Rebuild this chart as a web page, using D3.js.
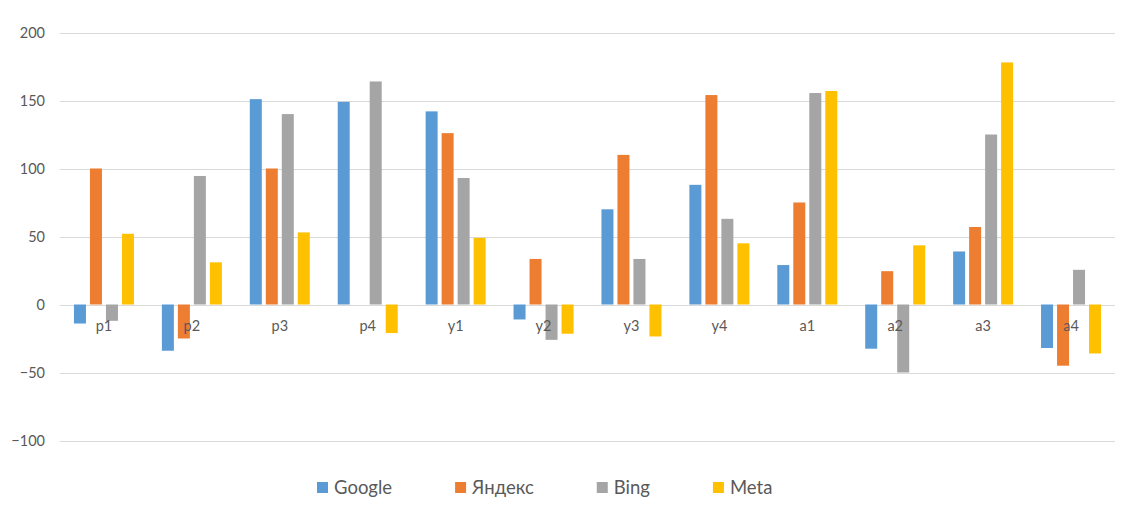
<!DOCTYPE html>
<html>
<head>
<meta charset="utf-8">
<script src="https://cdn.jsdelivr.net/npm/d3@7"></script>
<style>
  html, body { margin: 0; padding: 0; background: #fff; }
  svg { display: block; font-family: Lato, "Open Sans", "Liberation Sans", sans-serif; }
</style>
</head>
<body>
<svg id="chart" width="1124" height="523"></svg>
<script>
const categories = ["p1","p2","p3","p4","y1","y2","y3","y4","a1","a2","a3","a4"];
const seriesNames = ["Google","Яндекс","Bing","Meta"];
const google = [-14, -34, 151, 149, 142, -11, 70, 88, 29, -32.5, 39, -32];
const yandex = [100, -25, 100, 0, 126, 33.5, 110, 154, 75, 24.5, 57, -45];
const bing   = [-12, 94.5, 140, 164, 93, -26, 33.5, 63, 155.5, -50, 125, 25.5];
const meta   = [52, 31, 53, -21, 49, -21.5, -23.5, 45, 157, 43.5, 178, -36];
const yTicks = [-100, -50, 0, 50, 100, 150, 200];
const colors = ["#5B9BD5", "#ED7D31", "#A5A5A5", "#FFC000"];

const seriesValues = [google, yandex, bing, meta];

const svg = d3.select("#chart");
const plotLeft = 60, plotRight = 1115, plotTop = 32.5, plotBottom = 440.5;

const x = d3.scaleBand().domain(categories).range([plotLeft, plotRight]).paddingInner(0).paddingOuter(0);
const y = d3.scaleLinear().domain([-100, 200]).range([plotBottom, plotTop]);

// gridlines
svg.append("g").selectAll("line").data(yTicks).join("line")
  .attr("x1", plotLeft).attr("x2", plotRight)
  .attr("y1", d => Math.round(y(d)) + 0.5).attr("y2", d => Math.round(y(d)) + 0.5)
  .attr("stroke", "#D9D9D9").attr("stroke-width", 1);

// y axis labels
const yAxis = d3.axisLeft(y).tickValues(yTicks).tickSize(0).tickPadding(0);
const gy = svg.append("g").attr("transform", `translate(45,0)`).call(yAxis);
gy.select(".domain").remove();
gy.selectAll("text").attr("fill", "#595959").style("font-size", "14.5px")
  .attr("font-family", "Lato, \"Open Sans\", sans-serif");

// bars
const groupW = 60, barW = 12, step = 16;
const barsG = svg.append("g");
seriesNames.forEach((name, si) => {
  const vals = seriesValues[si];
  barsG.append("g").selectAll("rect").data(categories.map((c, i) => ({c, v: vals[i]}))).join("rect")
    .attr("x", d => x(d.c) + (x.bandwidth() - groupW) / 2 + si * step)
    .attr("width", barW)
    .attr("y", d => y(Math.max(0, d.v)))
    .attr("height", d => Math.abs(y(d.v) - y(0)))
    .attr("fill", colors[si]);
});

// category labels
svg.append("g").selectAll("text").data(categories).join("text")
  .attr("x", d => x(d) + x.bandwidth() / 2)
  .attr("y", y(0) + 26)
  .attr("text-anchor", "middle")
  .attr("fill", "#595959")
  .style("font-size", "14.5px")
  .text(d => d);

// legend
const lg = svg.append("g");
let lx = 317;
seriesNames.forEach((name, i) => {
  lg.append("rect").attr("x", lx).attr("y", 482).attr("width", 11).attr("height", 11).attr("fill", colors[i]);
  const t = lg.append("text").attr("x", lx + 17).attr("y", 494).attr("fill", "#595959")
    .style("font-size", "18.5px").text(name);
  const w = t.node().getComputedTextLength();
  lx = lx + 17 + w + 63;
});
</script>
</body>
</html>
